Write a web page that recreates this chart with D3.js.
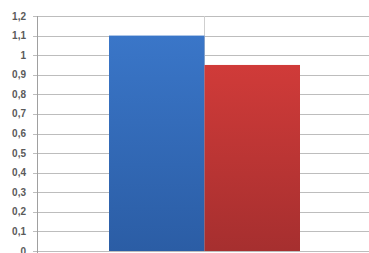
<!DOCTYPE html>
<html><head><meta charset="utf-8">
<script src="https://cdn.jsdelivr.net/npm/d3@7"></script>
<style>body{margin:0;background:#fff}svg{display:block}</style>
</head><body><svg id="c" width="369" height="253"></svg>
<script>
const series = ["A", "B"];
const values = [1.1, 0.95];
const colorsTop = ["#3a76c8", "#d03b39"];
const colorsBot = ["#2b5da5", "#a62f2f"];
const yTicks = [0,0.1,0.2,0.3,0.4,0.5,0.6,0.7,0.8,0.9,1,1.1,1.2];
const tickLabels = ["0","0,1","0,2","0,3","0,4","0,5","0,6","0,7","0,8","0,9","1","1,1","1,2"];

const svg = d3.select("#c");
const mLeft = 37, mRight = 371, mTop = 16, mBottom = 251;
const y = d3.scaleLinear().domain([0,1.2]).range([mBottom, mTop]);
const x = d3.scaleBand().domain(series).range([109, 300]).padding(0);

const defs = svg.append("defs");
series.forEach((s,i)=>{
  const g = defs.append("linearGradient").attr("id","g"+i).attr("x1",0).attr("y1",0).attr("x2",0).attr("y2",1);
  g.append("stop").attr("offset","0%").attr("stop-color",colorsTop[i]);
  g.append("stop").attr("offset","100%").attr("stop-color",colorsBot[i]);
});

// gridlines
svg.append("g").selectAll("line").data(yTicks).join("line")
  .attr("x1", 33).attr("x2", mRight)
  .attr("y1", d=>Math.round(y(d))+0.5).attr("y2", d=>Math.round(y(d))+0.5)
  .attr("stroke", "#bdbdbd").attr("stroke-width", 1);

// vertical category line
svg.append("line").attr("x1",204.5).attr("x2",204.5).attr("y1",y(1.2)).attr("y2",mBottom)
  .attr("stroke","#cfcfcf");

// bars
svg.append("g").selectAll("rect").data(values).join("rect")
  .attr("x",(d,i)=>x(series[i])).attr("width",x.bandwidth())
  .attr("y",d=>y(d)).attr("height",d=>mBottom-y(d))
  .attr("fill",(d,i)=>`url(#g${i})`);

// y axis line
svg.append("line").attr("x1",mLeft+0.5).attr("x2",mLeft+0.5).attr("y1",mTop).attr("y2",253)
  .attr("stroke","#a0a0a0");

// labels
svg.append("g").selectAll("text").data(yTicks).join("text")
  .attr("x", 26).attr("y", d=>y(d)+3.5)
  .attr("text-anchor","end")
  .attr("font-family","Liberation Sans, Arial, sans-serif")
  .attr("font-size",10).attr("font-weight","bold")
  .attr("fill","#5a5a5a")
  .text((d,i)=>tickLabels[i]);
</script></body></html>
